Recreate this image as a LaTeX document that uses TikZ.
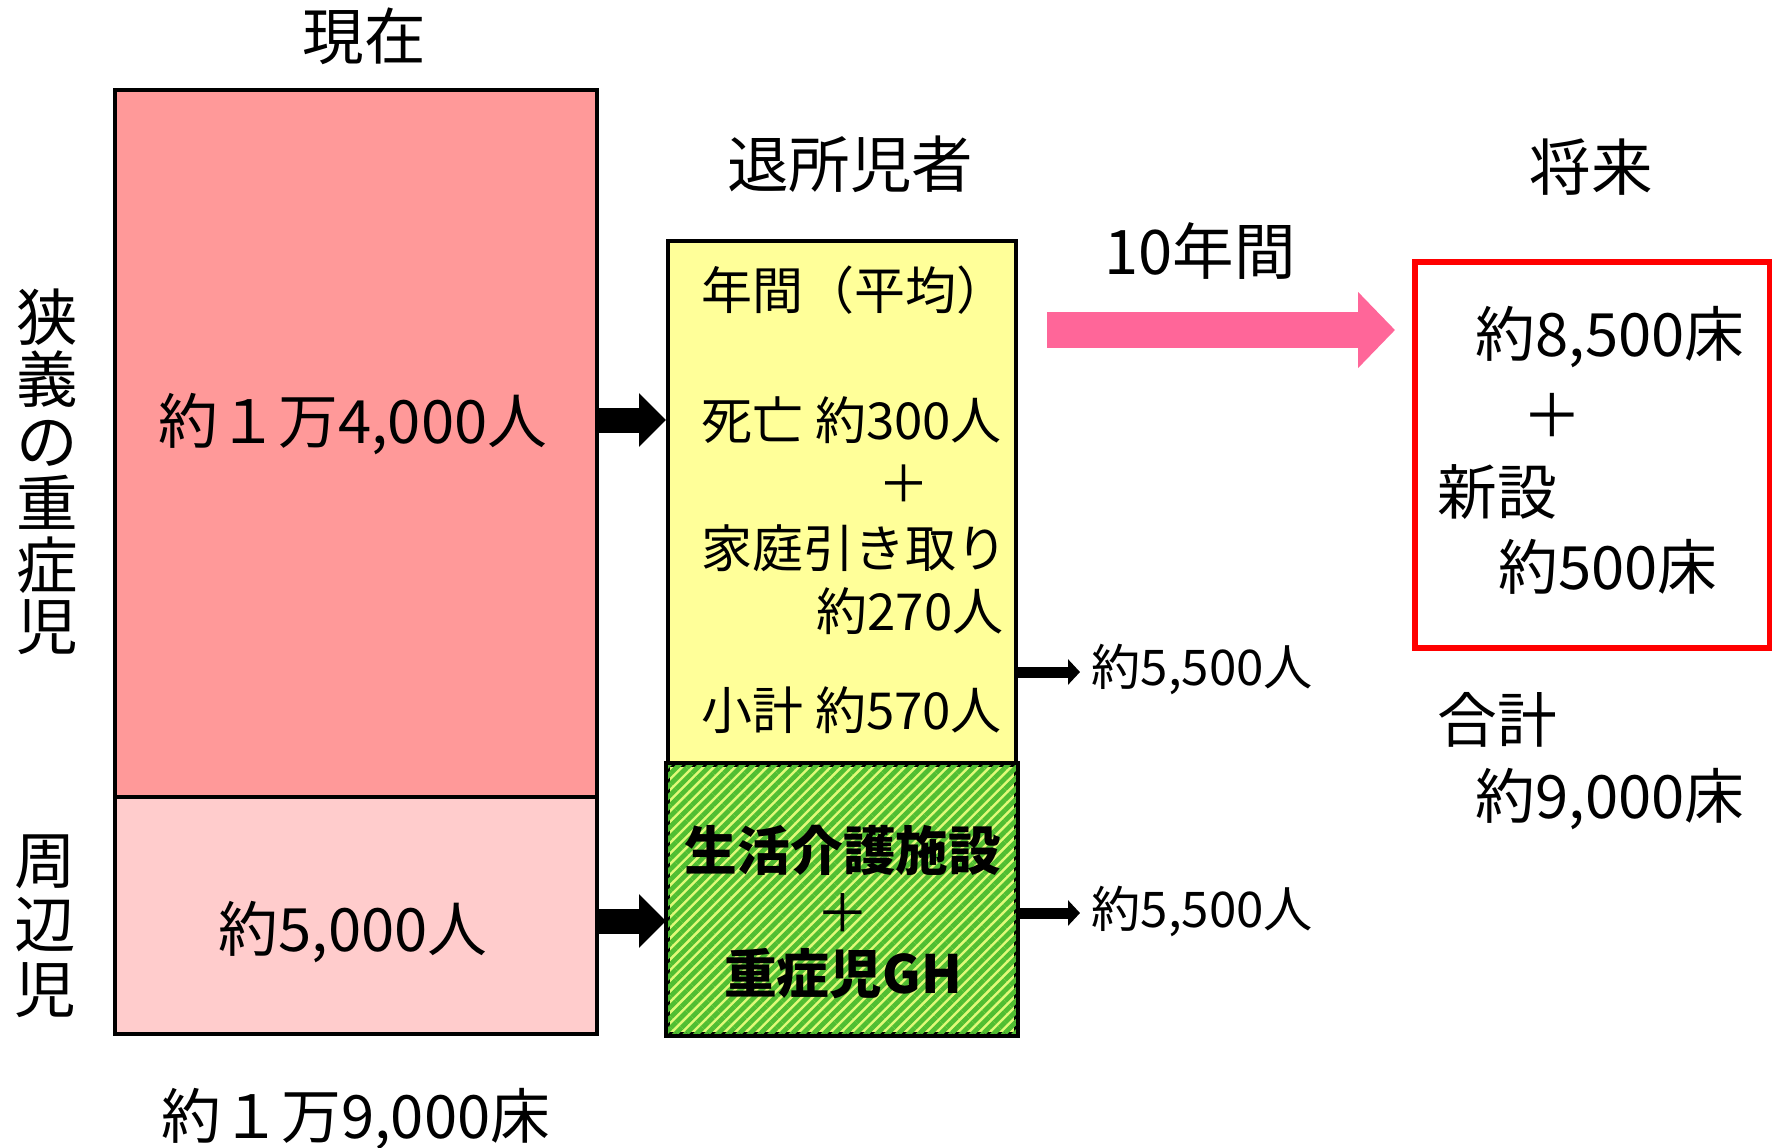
\documentclass[tikz,border=0pt]{standalone}
\usepackage{fontspec}
\setmainfont{Noto Sans CJK JP}
\usetikzlibrary{arrows.meta,patterns.meta}
\definecolor{salmon}{RGB}{255,153,153}
\definecolor{lightsalmon}{RGB}{255,204,204}
\definecolor{paleyellow}{RGB}{255,255,153}
\definecolor{stripegreen}{RGB}{80,190,50}
\definecolor{stripeyellow}{RGB}{225,250,120}
\definecolor{arrowpink}{RGB}{255,102,153}
\tikzset{
  box/.style={draw=black, line width=0.4mm, inner sep=0pt},
  big/.style={inner sep=0pt, font=\fontsize{17}{21}\selectfont},
  mid/.style={inner sep=0pt, font=\fontsize{14.5}{18}\selectfont},
  small/.style={inner sep=0pt, font=\fontsize{14}{18}\selectfont},
  heavy/.style={inner sep=0pt, font=\fontsize{15}{18}\selectfont\bfseries},
  fat/.style={line width=2.5mm, -{Triangle[length=2.7mm, width=5.2mm]}},
  thin/.style={line width=1.1mm, -{Triangle[length=1.2mm, width=2.5mm]}},
}
\begin{document}
\begin{tikzpicture}[x=0.1mm, y=-0.1mm]
\useasboundingbox (0,0) rectangle (1772,1147);
% present beds
\node[box, fill=salmon, minimum width=48.2mm, minimum height=70.7mm] (narrow) at (356,443.5) {};
\node[box, fill=lightsalmon, minimum width=48.2mm, minimum height=23.7mm] (outer) at (356,915.5) {};
\node[big, font=\fontsize{17.5}{21}\selectfont] (now) at (364,36) {現在};
\node[big] (n14000) at (353,424) {約１万4,000人};
\node[big] (n5000) at (353,932) {約5,000人};
\node[big] (n19000) at (356,1119) {約１万9,000床};
\node[big, font=\fontsize{17.5}{17.6}\selectfont, align=center] (narrowlbl) at (47,472) {狭\\義\\の\\重\\症\\児};
\node[big, font=\fontsize{17.5}{18.4}\selectfont, align=center] (outerlbl) at (45,926) {周\\辺\\児};
% leavers
\node[box, fill=paleyellow, minimum width=34.8mm, minimum height=52.4mm] (leave) at (842,503) {};
\node[box, fill=stripeyellow, minimum width=34.8mm, minimum height=26.9mm] (care) at (842,899.5) {};
\fill[pattern={Lines[angle=45, distance=0.75mm, line width=0.48mm]}, pattern color=stripegreen]
  (care.south west) rectangle (care.north east);
\draw[line width=0.4mm] (care.south west) rectangle (care.north east);
\node[big, font=\fontsize{17.5}{21}\selectfont] (leavers) at (850,164) {退所児者};
\node[mid, anchor=west] (avg) at (701,290) {年間（平均）};
\node[mid, anchor=west] (death) at (701,420) {死亡 約300人};
\node[mid] (plus1) at (904,484) {＋};
\node[mid, anchor=west] (home) at (701,548) {家庭引き取り};
\node[mid, anchor=east] (n270) at (1004,611) {約270人};
\node[mid, anchor=west] (sub) at (701,710) {小計 約570人};
\node[heavy] (carea) at (843,850) {生活介護施設};
\node[mid, font=\fontsize{15}{18}\selectfont] (plus2) at (843,913) {＋};
\node[heavy] (careb) at (843,974) {重症児GH};
% flows
\coordinate (y1) at (0,420);
\coordinate (y2) at (0,921);
\coordinate (y3) at (0,672);
\coordinate (y4) at (0,913);
\draw[fat] (narrow.east |- y1) -- (leave.west |- y1);
\draw[fat] (outer.east |- y2) -- (care.west |- y2);
\coordinate (outA) at (1080,672);
\coordinate (outB) at (1080,913);
\draw[thin] (leave.east |- y3) -- (outA);
\draw[thin] (care.east |- y4) -- (outB);
\node[small, anchor=west] (n5500a) at (1091,669) {約5,500人};
\node[small, anchor=west] (n5500b) at (1091,911) {約5,500人};
% ten years
\node[big, font=\fontsize{17.5}{21}\selectfont] (ten) at (1200,251) {10年間};
\coordinate (tenS) at (1047,330);
\coordinate (tenE) at (1395,330);
\draw[line width=3.6mm, arrowpink, -{Triangle[length=3.7mm, width=7.4mm]}] (tenS) -- (tenE);
% future
\node[big, font=\fontsize{17.5}{21}\selectfont] (future) at (1591,167) {将来};
\node[draw=red, line width=0.6mm, minimum width=35.5mm, minimum height=38.6mm] (fut) at (1592.5,455) {};
\node[big] (n8500) at (1610,337) {約8,500床};
\node[big] (plus3) at (1552,415) {＋};
\node[big, anchor=west] (new) at (1437,492) {新設};
\node[big] (n500) at (1608,567) {約500床};
\node[big, anchor=west] (total) at (1437,720) {合計};
\node[big] (n9000) at (1610,799) {約9,000床};
\end{tikzpicture}
\end{document}
